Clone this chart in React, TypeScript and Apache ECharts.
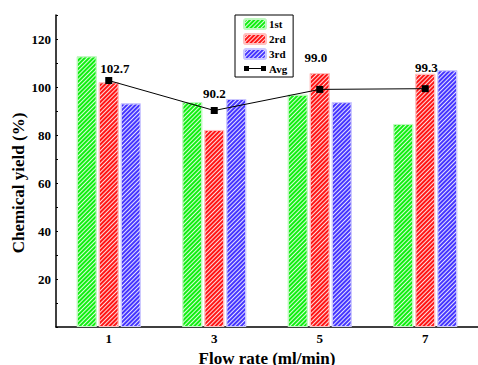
import React, { useEffect, useRef } from "react";
import * as echarts from "echarts";

const categories = ["1", "3", "5", "7"];
const run1 = [112.8, 93.7, 96.8, 84.6];
const run2 = [102.0, 82.1, 105.8, 105.5];
const run3 = [93.2, 95.0, 93.7, 107.0];
const avg = [102.7, 90.2, 99.0, 99.3];
const avgLabelOffsets = [[6, 3], [0, -2], [-4, -17], [1, -6]];

const FONT = "Liberation Serif";

function hatch(): any {
  return {
    symbol: "rect",
    rotation: -Math.PI / 4,
    dashArrayX: [1, 0],
    dashArrayY: [1, 1.2],
    symbolSize: 1,
    color: "rgba(255,255,255,0.85)",
  };
}

export default function App() {
  const ref = useRef<HTMLDivElement>(null);
  useEffect(() => {
    const chart = echarts.init(ref.current!, null, { renderer: "svg" });
    const barSeries = (name: string, data: number[], color: string, border: string) => ({
      name,
      type: "bar",
      data,
      barWidth: 20,
      barGap: "10%",
      itemStyle: { color, borderColor: border, borderWidth: 1, decal: hatch() },
    });
    chart.setOption({
      animation: false,
      textStyle: { fontFamily: FONT },
      grid: { left: 56, right: 0, top: 15, bottom: 38, containLabel: false, outerBoundsMode: "none" },
      legend: {
        orient: "vertical",
        left: 235,
        top: 15,
        width: 58,
        padding: [3, 6, 3, 8],
        itemGap: 3,
        itemWidth: 22,
        itemHeight: 10,
        borderColor: "#000",
        borderWidth: 1,
        textStyle: { fontFamily: FONT, fontWeight: "bold", fontSize: 11, color: "#000", padding: [0, 0, 0, -2] },
        data: [
          { name: "1st", itemStyle: { decal: hatch() } },
          { name: "2rd", itemStyle: { decal: hatch() } },
          { name: "3rd", itemStyle: { decal: hatch() } },
          {
            name: "Avg",
            icon: "path://M0,0h5v5h-5z M5,2h12v1h-12z M17,0h5v5h-5z",
            itemStyle: { color: "#000" },
          },
        ],
      },
      xAxis: {
        type: "category",
        data: categories,
        name: "Flow rate (ml/min)",
        nameLocation: "middle",
        nameGap: 16,
        nameTextStyle: { fontFamily: FONT, fontWeight: "bold", fontSize: 17, color: "#000" },
        axisLine: { lineStyle: { color: "#000", width: 1.5 } },
        axisTick: { inside: true, length: 2, lineStyle: { color: "#000" } },
        axisLabel: { fontFamily: FONT, fontWeight: "bold", fontSize: 13, color: "#000", margin: 5 },
      },
      yAxis: {
        type: "value",
        min: 0,
        max: 130,
        interval: 20,
        splitLine: { show: false },
        axisLine: { show: true, lineStyle: { color: "#000", width: 1.5 } },
        axisTick: { show: true, inside: true, length: 2, lineStyle: { color: "#000" } },
        minorTick: { show: true, splitNumber: 2, length: 2 },
        axisLabel: {
          fontFamily: FONT,
          fontWeight: "bold",
          fontSize: 13,
          color: "#000",
          margin: 5,
          formatter: (v: number) => (v === 0 || v > 120 ? "" : String(v)),
        },
      },
      graphic: [
        {
          type: "text",
          x: 18,
          y: 183,
          rotation: Math.PI / 2,
          style: {
            text: "Chemical yield (%)",
            fontFamily: FONT,
            fontWeight: "bold",
            fontSize: 17,
            fill: "#000",
            align: "center",
            verticalAlign: "middle",
          },
        },
      ],
      series: [
        barSeries("1st", run1, "#11ee11", "#c0f8c0"),
        barSeries("2rd", run2, "#ff1515", "#ffc0c0"),
        barSeries("3rd", run3, "#4535ff", "#ccc8ff"),
        {
          name: "Avg",
          type: "line",
          data: avg.map((v, i) => ({
            value: v,
            label: { offset: avgLabelOffsets[i] },
          })),
          symbol: "rect",
          symbolSize: 7,
          itemStyle: { color: "#000" },
          lineStyle: { color: "#000", width: 1 },
          label: {
            show: true,
            position: "top",
            fontFamily: FONT,
            fontWeight: "bold",
            fontSize: 13,
            color: "#000",
            formatter: (p: any) => Number(p.value).toFixed(1),
          },
          z: 5,
        },
      ],
    });
    return () => chart.dispose();
  }, []);
  return <div ref={ref} style={{ width: 478, height: 365, position: "absolute", left: 0, top: 0 }} />;
}
